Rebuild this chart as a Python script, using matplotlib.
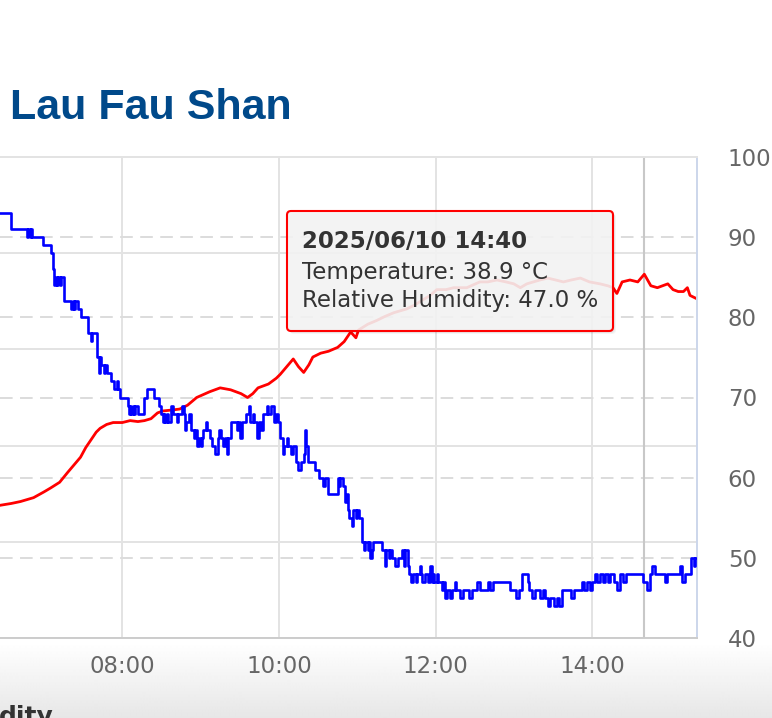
import matplotlib
matplotlib.use("Agg")
import matplotlib.pyplot as plt
import numpy as np
from matplotlib.patches import FancyBboxPatch
from matplotlib.transforms import blended_transform_factory

W, H, DPI = 772, 718, 100

station = "Lau Fau Shan"
next_heading = "dity"
x_tick_minutes = [480, 600, 720, 840]
x_tick_labels = ["08:00", "10:00", "12:00", "14:00"]
temp_ticks = [20, 25, 30, 35, 40, 45]
rh_ticks = [40, 50, 60, 70, 80, 90, 100]
rh_dashed = [50, 60, 70, 80, 90]

tooltip_time = "2025/06/10 14:40"
tooltip_minute = 880
tooltip_temp = 38.9
tooltip_rh = 47.0

# temperature (deg C) at minutes since midnight
temp_minutes = [386, 395, 402, 412, 420, 425, 432, 438, 443, 448, 452, 456, 460, 463,
                468, 473, 480, 486, 492, 497, 502, 507, 511, 518, 524, 530, 537, 547,
                555, 563, 571, 576, 580, 584, 592, 598, 601, 606, 611, 615, 619, 623,
                626, 632, 638, 645, 650, 655, 659, 661, 668, 675, 681, 688, 698, 704,
                711, 716, 721, 728, 734, 744, 754, 760, 767, 774, 780, 785, 790, 795,
                800, 806, 812, 818, 824, 831, 838, 846, 852, 856, 859, 863, 869, 875,
                880, 885, 890, 894, 898, 902, 906, 910, 913, 915, 918, 921]
temp_values = [26.9, 27.0, 27.1, 27.3, 27.6, 27.8, 28.1, 28.6, 29.0, 29.4, 29.9, 30.3, 30.7, 30.9,
               31.1, 31.2, 31.2, 31.3, 31.25, 31.3, 31.4, 31.7, 31.8, 31.85, 31.9, 32.1, 32.5, 32.8,
               33.0, 32.9, 32.7, 32.5, 32.7, 33.0, 33.2, 33.5, 33.7, 34.1, 34.5, 34.1, 33.8, 34.2,
               34.6, 34.8, 34.9, 35.1, 35.4, 35.9, 35.6, 36.0, 36.3, 36.5, 36.7, 36.9, 37.1, 37.3,
               37.6, 37.8, 38.1, 38.1, 38.2, 38.2, 38.5, 38.5, 38.6, 38.5, 38.4, 38.2, 38.4, 38.5,
               38.6, 38.7, 38.6, 38.5, 38.6, 38.7, 38.5, 38.4, 38.3, 38.2, 37.9, 38.5, 38.6, 38.5,
               38.9, 38.3, 38.2, 38.3, 38.4, 38.1, 38.0, 38.0, 38.2, 37.8, 37.7, 37.6]

# relative humidity (%) readings: (minute since midnight, value)
rh_readings = [
    (386, 93), (395, 91), (407, 90), (408, 91), (409, 90), (410, 91), (411, 90), (419, 89),
    (425, 88), (427, 86), (428, 84), (429, 85), (430, 84), (431, 85), (432, 84), (433, 85),
    (435, 82), (441, 81), (442, 82), (443, 81), (444, 82), (446, 81), (448, 80), (454, 78),
    (456, 77), (457, 78), (461, 75), (462, 73), (463, 75), (464, 74), (466, 73), (467, 74),
    (468, 73), (471, 72), (474, 71), (476, 72), (477, 71), (478, 70), (484, 69), (485, 68),
    (486, 69), (487, 68), (488, 69), (489, 68), (490, 69), (492, 68), (497, 70), (499, 71),
    (504, 70), (508, 69), (510, 68), (511, 67), (512, 68), (513, 67), (514, 68), (515, 67),
    (517, 69), (519, 68), (522, 67), (523, 68), (526, 69), (527, 68), (528, 66), (529, 67),
    (531, 68), (533, 66), (535, 65), (536, 66), (537, 64), (539, 65), (540, 64), (541, 65),
    (542, 66), (544, 67), (545, 66), (547, 65), (549, 64), (551, 63), (553, 65), (554, 66),
    (556, 65), (557, 64), (559, 65), (560, 63), (561, 65), (563, 67), (568, 66), (569, 67),
    (570, 65), (572, 67), (575, 68), (577, 69), (578, 67), (580, 68), (581, 67), (583, 65),
    (585, 67), (586, 66), (588, 68), (591, 69), (592, 68), (594, 69), (596, 67), (598, 68),
    (599, 67), (601, 65), (603, 63), (604, 64), (606, 65), (607, 64), (609, 63), (611, 64),
    (613, 62), (615, 61), (617, 62), (619, 63), (620, 66), (621, 64), (622, 62), (628, 61),
    (631, 60), (634, 59), (635, 60), (638, 58), (645, 60), (646, 59), (647, 60), (649, 59),
    (651, 57), (652, 58), (653, 56), (654, 55), (656, 54), (657, 56), (659, 55), (660, 56),
    (661, 55), (664, 52), (665, 51), (666, 52), (668, 51), (669, 52), (670, 50), (671, 51),
    (672, 52), (679, 51), (681, 49), (682, 51), (684, 50), (685, 51), (687, 50), (689, 49),
    (691, 50), (694, 51), (696, 49), (697, 51), (699, 49), (700, 48), (701, 47), (703, 48),
    (705, 47), (706, 48), (708, 49), (709, 48), (710, 47), (712, 48), (714, 47), (716, 49),
    (717, 47), (718, 48), (719, 47), (721, 48), (722, 47), (725, 46), (726, 47), (727, 45),
    (729, 46), (731, 45), (733, 46), (735, 47), (736, 46), (739, 45), (741, 46), (746, 45),
    (748, 46), (752, 47), (754, 46), (760, 47), (762, 46), (764, 47), (777, 46), (782, 45),
    (784, 46), (786, 48), (791, 47), (792, 46), (794, 45), (796, 46), (800, 45), (802, 46),
    (804, 45), (806, 44), (808, 45), (811, 44), (813, 45), (815, 44), (817, 46), (824, 45),
    (826, 46), (832, 47), (834, 46), (836, 47), (838, 46), (840, 47), (842, 48), (844, 47),
    (846, 48), (848, 47), (850, 48), (852, 47), (854, 48), (857, 47), (859, 46), (861, 48),
    (864, 47), (866, 48), (879, 47), (882, 46), (884, 48), (886, 49), (888, 48), (896, 47),
    (897, 48), (907, 49), (909, 47), (911, 48), (916, 50), (918, 49), (919, 50), (921, 49),
]
rh_minutes = [m for m, _ in rh_readings]
rh_values = [v for _, v in rh_readings]

X_LEFT, X_RIGHT = 386.3, 920.6

fig = plt.figure(figsize=(W / DPI, H / DPI), dpi=DPI, facecolor="white")

# background gradient below the chart
bg = fig.add_axes([0, 0, 1, 1], zorder=-10)
shade = np.ones(H)
start = 642
shade[start:] = np.linspace(1.0, 0.905, H - start) ** 1.0
bg.imshow(np.repeat(shade[:, None], 4, axis=1), cmap="gray", vmin=0, vmax=1,
          extent=[0, W, H, 0], aspect="auto", interpolation="bilinear")
bg.set_xlim(0, W); bg.set_ylim(H, 0); bg.axis("off")

ax_left = 0.0
ax_right = 697.3 / W
ax_top = 1 - 156.7 / H
ax_bottom = 1 - 638.3 / H
ax = fig.add_axes([ax_left, ax_bottom, ax_right - ax_left, ax_top - ax_bottom], zorder=1)
ax.set_facecolor("white")
ax2 = ax.twinx()

ax.set_xlim(X_LEFT, X_RIGHT)
ax.set_ylim(temp_ticks[0], temp_ticks[-1])
ax2.set_ylim(rh_ticks[0], rh_ticks[-1])

grid_c = "#e3e3e3"
ax.set_yticks(temp_ticks)
ax.set_xticks(x_tick_minutes)
ax.set_xticklabels(x_tick_labels)
ax.grid(True, color=grid_c, lw=1.4, zorder=0)
ax.set_axisbelow(True)
ax.tick_params(axis="y", left=False, labelleft=False, right=False, labelright=False)
ax.tick_params(axis="x", length=0, pad=12, labelsize=16.5, labelcolor="#666666")

ax.spines["left"].set_visible(False)
ax.spines["top"].set_color(grid_c)
ax.spines["top"].set_linewidth(1.4)
ax.spines["bottom"].set_color("#cccccc")
ax.spines["bottom"].set_linewidth(1.4)
ax.spines["right"].set_color("#ccd6eb")
ax.spines["right"].set_linewidth(1.4)
for s in ax2.spines.values():
    s.set_visible(False)

ax2.set_yticks(rh_ticks)
ax2.set_yticklabels([str(v) for v in rh_ticks])
ax2.tick_params(axis="y", length=0, pad=22, labelsize=16.5, labelcolor="#666666")

# dashed humidity grid, drawn in the temperature axes so the series stay on top
blend = blended_transform_factory(ax.transAxes, ax2.transData)
for v in rh_dashed:
    ax.plot([0, 1], [v, v], transform=blend, color="#dcdcdc", lw=1.4,
            ls=(0, (6.5, 3.8)), zorder=0.6)

# crosshair at hovered time
ax.axvline(tooltip_minute, color="#c8c8c8", lw=1.5, zorder=0.8)

ax.plot(temp_minutes, temp_values, color="#ff0000", lw=2.0, zorder=2)
ax2.plot(rh_minutes, rh_values, color="#0000ff", lw=1.9, drawstyle="steps-post", zorder=2)

# overlay in pixel coordinates
ov = fig.add_axes([0, 0, 1, 1], zorder=10)
ov.set_xlim(0, W); ov.set_ylim(H, 0); ov.axis("off")
ov.patch.set_alpha(0)

ov.text(10, 119, station, fontfamily="Liberation Sans", fontweight="bold",
        fontsize=31, color="#00498a", va="baseline", ha="left")
ov.text(-1, 724, next_heading, fontweight="bold", fontsize=18, color="#333333",
        va="baseline", ha="left")

bx, by, bw, bh = 287, 211, 326, 120
for k, a in [(3, 0.04), (2, 0.05), (1, 0.06)]:
    ov.add_patch(FancyBboxPatch((bx + k, by + k), bw, bh,
                                boxstyle="round,pad=0,rounding_size=4",
                                fc=(0, 0, 0, a), ec="none"))
ov.add_patch(FancyBboxPatch((bx, by), bw, bh, boxstyle="round,pad=0,rounding_size=4",
                            fc=(0.968, 0.968, 0.968, 0.88), ec="#ff0000", lw=1.5))
ov.text(302, 241, tooltip_time, fontsize=16.5, fontweight="bold", color="#333333",
        va="center", ha="left")
ov.text(302, 272, f"Temperature: {tooltip_temp:.1f} °C", fontsize=16.5, color="#333333",
        va="center", ha="left")
ov.text(302, 301, f"Relative Humidity: {tooltip_rh:.1f} %", fontsize=16.5, color="#333333",
        va="center", ha="left")

fig.savefig("out.png", dpi=DPI, facecolor="white")
